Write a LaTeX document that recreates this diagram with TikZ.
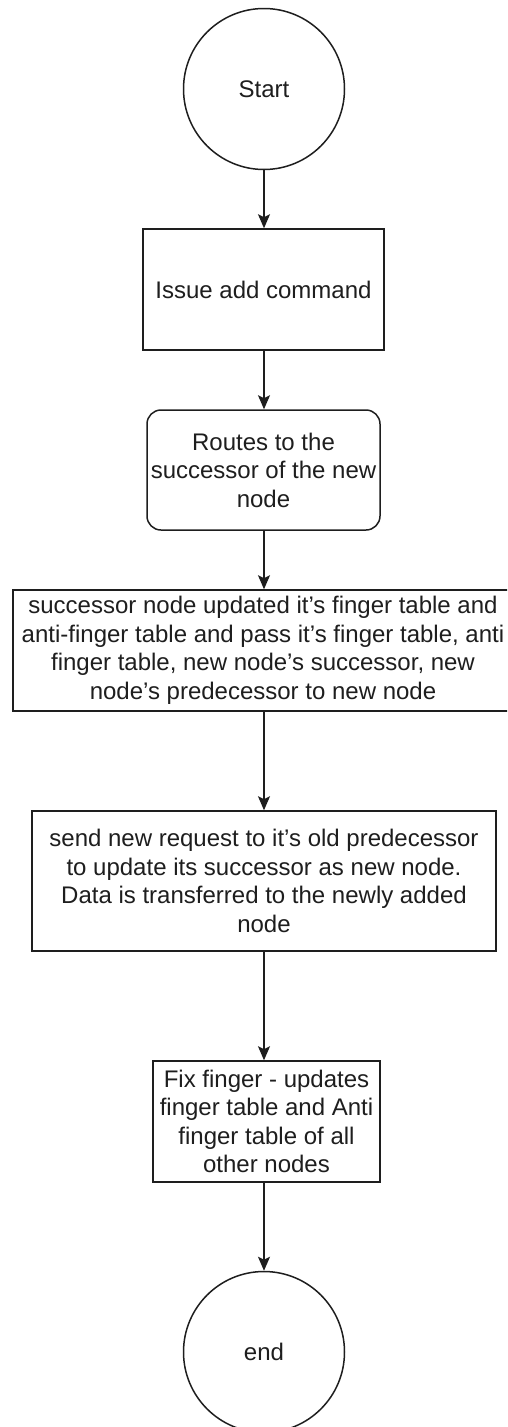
\documentclass[tikz,border=0pt]{standalone}
\usepackage{fontspec}
\setmainfont{Liberation Sans}
\usetikzlibrary{arrows.meta}
\definecolor{ink}{HTML}{1E1E1E}
\tikzset{
  flow/.style={draw=ink, line width=1.5pt, fill=white, text=ink, inner sep=0pt,
    align=center, font=\fontsize{24}{28.5}\selectfont},
  boxnode/.style={flow, rectangle},
  roundbox/.style={flow, rectangle, rounded corners=14pt},
  termnode/.style={flow, circle, minimum size=161pt},
  conn/.style={draw=ink, line width=1.5pt, -{Stealth[length=14pt,width=12pt,inset=3pt]}}
}
\begin{document}
\begin{tikzpicture}[x=1pt,y=-1pt]
\useasboundingbox (0,0) rectangle (507,1427);
\clip (0,0) rectangle (507,1427);
\fill[white] (0,0) rectangle (507,1427);

\node[termnode] (start) at (264,89) {Start};
\node[boxnode, minimum width=241pt, minimum height=121pt] (b1) at (263.5,289.5) {Issue add command};
\node[roundbox, minimum width=233pt, minimum height=120pt] (b2) at (263.5,470) {Routes to the\\successor of the new\\node};
\node[boxnode, minimum width=500pt, minimum height=121pt] (b3) at (263,650.5) {successor node updated it's finger table and\\anti-finger table and pass it's finger table, anti\\finger table, new node's successor, new\\node's predecessor to new node};
\node[boxnode, minimum width=464pt, minimum height=140pt] (b4) at (264,881) {send new request to it's old predecessor\\to update its successor as new node.\\Data is transferred to the newly added\\node};
\node[boxnode, minimum width=227pt, minimum height=121pt] (b5) at (266.5,1121.5) {Fix finger - updates\\finger table and Anti\\finger table of all\\other nodes};
\node[termnode] (end) at (264,1352) {end};

\draw[conn] (start.south) -- (start.south |- b1.north);
\draw[conn] (start.south |- b1.south) -- (start.south |- b2.north);
\draw[conn] (start.south |- b2.south) -- (start.south |- b3.north);
\draw[conn] (start.south |- b3.south) -- (start.south |- b4.north);
\draw[conn] (start.south |- b4.south) -- (start.south |- b5.north);
\draw[conn] (start.south |- b5.south) -- (end.north);
\end{tikzpicture}
\end{document}
